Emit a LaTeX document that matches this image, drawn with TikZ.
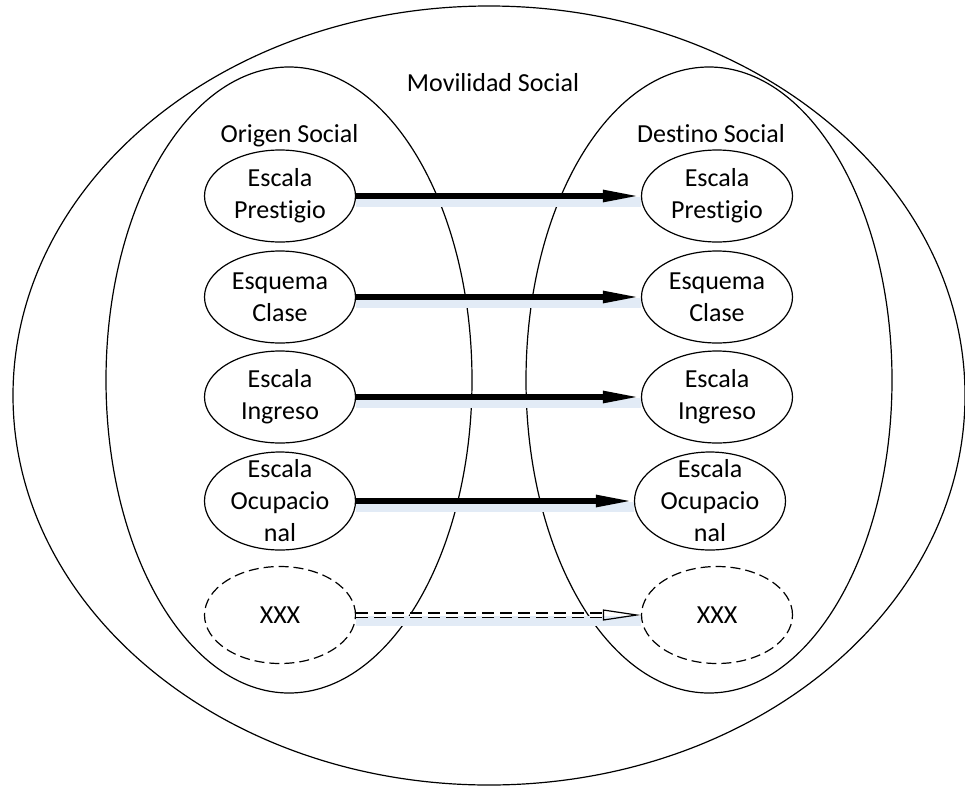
\documentclass[tikz,border=0pt]{standalone}
\usepackage{fontspec}
\setmainfont[Ligatures={NoCommon,NoContextual}]{Carlito}
\usetikzlibrary{arrows.meta}
\usetikzlibrary{shapes.geometric}
\usetikzlibrary{positioning}
\definecolor{shadowblue}{RGB}{226,235,246}

\begin{document}
\begin{tikzpicture}[x=1pt,y=-1pt,
	every node/.style={font=\fontsize{26}{32}\selectfont},
	scal/.style={draw,ellipse,line width=1.2pt,minimum width=151pt,
		minimum height=92pt,inner sep=0pt},
	dscal/.style={scal,dash pattern=on 10pt off 5pt},
	flow/.style={line width=5.5pt,-{Triangle[length=38pt,width=11pt]},
		preaction={-,draw=shadowblue,line width=10pt,transform canvas={yshift=-6pt}}},
	dflow/.style={line width=1.2pt,double,double distance=3pt,
		dash pattern=on 12pt off 6pt,-{Triangle[open,length=38pt,width=11pt]},
		preaction={-,draw=shadowblue,solid,line width=10pt,transform canvas={yshift=-6pt}}}]
\useasboundingbox (0,0) rectangle (965,787);
% containers
\draw[line width=1.2pt] (489,395.5) ellipse [x radius=476, y radius=389.5];
\draw[line width=1.2pt] (289,380) ellipse [x radius=183, y radius=313];
\draw[line width=1.2pt] (709,380) ellipse [x radius=183, y radius=313];
\node[anchor=base] (mov) at (493,91) {Movilidad Social};
\node[anchor=base] (orig) at (289.5,142) {Origen Social};
\node[anchor=base] (dest) at (711,142) {Destino Social};
% origin side
\node[scal,label={[align=center]center:Escala\\Prestigio}] (pres1) at (280,196) {};
\node[scal,label={[align=center]center:Esquema\\Clase}] (clas1) at (280,297) {};
\node[scal,label={[align=center]center:Escala\\Ingreso}] (ingr1) at (280,397) {};
\node[scal,minimum height=98pt,label={[align=center]center:Escala\\Ocupacio\\nal}] (ocup1) at (280,501) {};
\node[dscal,minimum height=97pt,label={center:XXX}] (xxx1) at (280,615) {};
% destination side
\node[scal,label={[align=center]center:Escala\\Prestigio}] (pres2) at (717,196) {};
\node[scal,label={[align=center]center:Esquema\\Clase}] (clas2) at (717,297) {};
\node[scal,label={[align=center]center:Escala\\Ingreso}] (ingr2) at (717,397) {};
\node[scal,minimum height=98pt,label={[align=center]center:Escala\\Ocupacio\\nal}] (ocup2) at (710,501) {};
\node[dscal,minimum height=97pt,label={center:XXX}] (xxx2) at (717,615) {};
% arrows
\draw[flow] (pres1) -- (pres2);
\draw[flow] (clas1) -- (clas2);
\draw[flow] (ingr1) -- (ingr2);
\draw[flow] (ocup1) -- (ocup2);
\draw[dflow] (xxx1) -- (xxx2);
\end{tikzpicture}
\end{document}
